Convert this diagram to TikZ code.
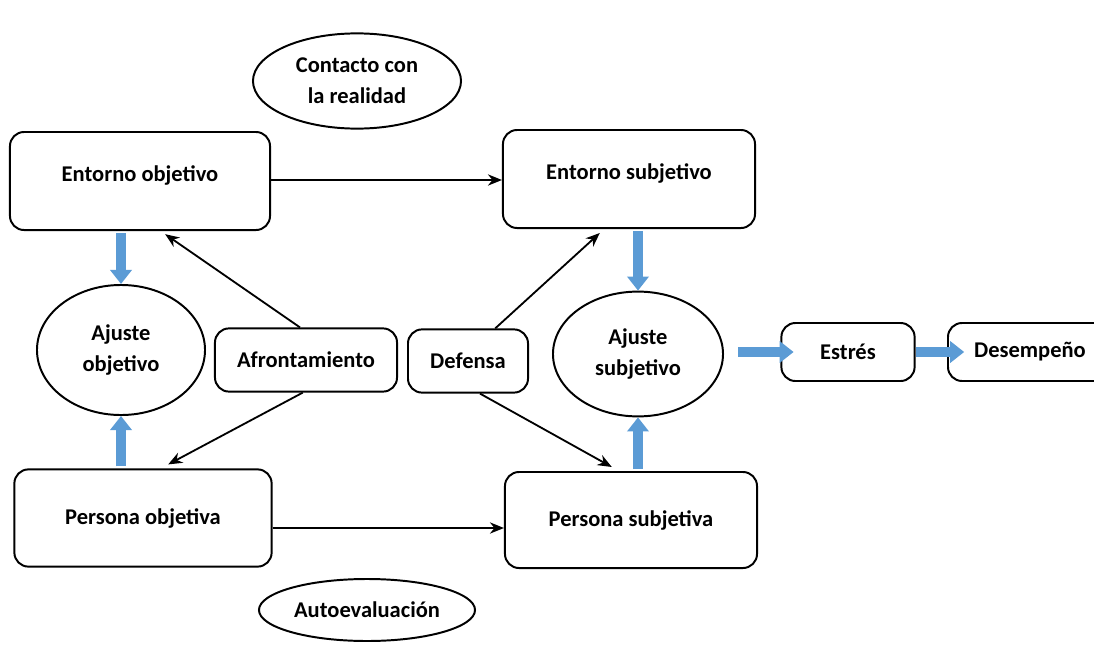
\documentclass[tikz,border=0pt]{standalone}
\usepackage{fontspec}
\setmainfont{Carlito}
\usetikzlibrary{shapes.geometric,arrows.meta,positioning}
\definecolor{flowblue}{HTML}{5B9BD5}

\tikzset{
    box/.style={draw, line width=1.4pt, rounded corners=10pt, align=center,
        font=\bfseries\fontsize{16}{22}\selectfont},
    oval/.style={draw, ellipse, line width=1.4pt, align=center, inner sep=0pt,
        font=\bfseries\fontsize{16}{22}\selectfont},
    arr/.style={-{Stealth[length=10pt,width=8pt]}, line width=1.3pt},
    fat/.style={flowblue, line width=7pt, -{Triangle[length=10pt,width=15pt]}}
}

\begin{document}
\begin{tikzpicture}[x=0.025cm, y=-0.025cm]

    \useasboundingbox (0,0) rectangle (1094,658);

    % Boxes of the objective and subjective side
    \node[box, text depth=1.1em, minimum width=6.5cm, minimum height=2.45cm] (eo) at (140,181) {Entorno objetivo};
    \node[box, text depth=1.1em, minimum width=6.3cm, minimum height=2.45cm] (es) at (629,179) {Entorno subjetivo};
    \node[box, minimum width=6.43cm, minimum height=2.43cm] (po) at (143,518) {Persona objetiva};
    \node[box, minimum width=6.3cm, minimum height=2.4cm] (ps) at (631,520) {Persona subjetiva};

    % Middle boxes
    \node[box, minimum width=4.55cm, minimum height=1.58cm] (af) at (306,360) {Afrontamiento};
    \node[box, minimum width=3cm, minimum height=1.58cm] (df) at (468,361) {Defensa};
    \node[box, minimum width=3.33cm, minimum height=1.45cm] (st) at (848,352) {Estrés};
    \node[box, minimum width=4.1cm, minimum height=1.45cm] (dp) at (1030,352) {Desempeño};

    % Ellipses
    \node[oval, minimum width=5.2cm, minimum height=2.38cm] (cr) at (357,81) {Contacto con\\la realidad};
    \node[oval, minimum width=5.4cm, minimum height=1.55cm] (ae) at (367,610) {Autoevaluación};
    \node[oval, minimum width=4.2cm, minimum height=3.25cm] (ao) at (121,350) {Ajuste\\objetivo};
    \node[oval, minimum width=4.25cm, minimum height=3.12cm] (as) at (638,354) {Ajuste\\subjetivo};

    % Black arrows
    \draw[arr] (eo.east |- 0,180) -- (es.west |- 0,180);
    \draw[arr] ([yshift=-0.25cm]po.east) -- ([yshift=-0.25cm]po.east -| ps.west);
    \draw[arr] ([xshift=-0.15cm]af.north) -- ([xshift=0.63cm,yshift=-0.08cm]eo.south);
    \draw[arr] ([xshift=-0.08cm]af.south) -- ([xshift=0.63cm,yshift=0.1cm]po.north);
    \draw[arr] ([xshift=0.68cm]df.north) -- ([xshift=-0.73cm,yshift=-0.1cm]es.south);
    \draw[arr] ([xshift=0.3cm]df.south) -- ([xshift=-0.48cm,yshift=0.1cm]ps.north);

    % Blue arrows
    \draw[fat] ([yshift=-0.05cm]ao.north |- eo.south) -- (ao.north);
    \draw[fat] ([yshift=0.05cm]ao.south |- po.north) -- (ao.south);
    \draw[fat] ([yshift=-0.05cm]as.north |- es.south) -- (as.north);
    \draw[fat] ([yshift=0.05cm]as.south |- ps.north) -- (as.south);
    \draw[fat] ([xshift=0.35cm]as.east |- st.west) -- ([xshift=0.33cm]st.west);
    \draw[fat] (st.east) -- ([xshift=0.43cm]dp.west);

\end{tikzpicture}
\end{document}
